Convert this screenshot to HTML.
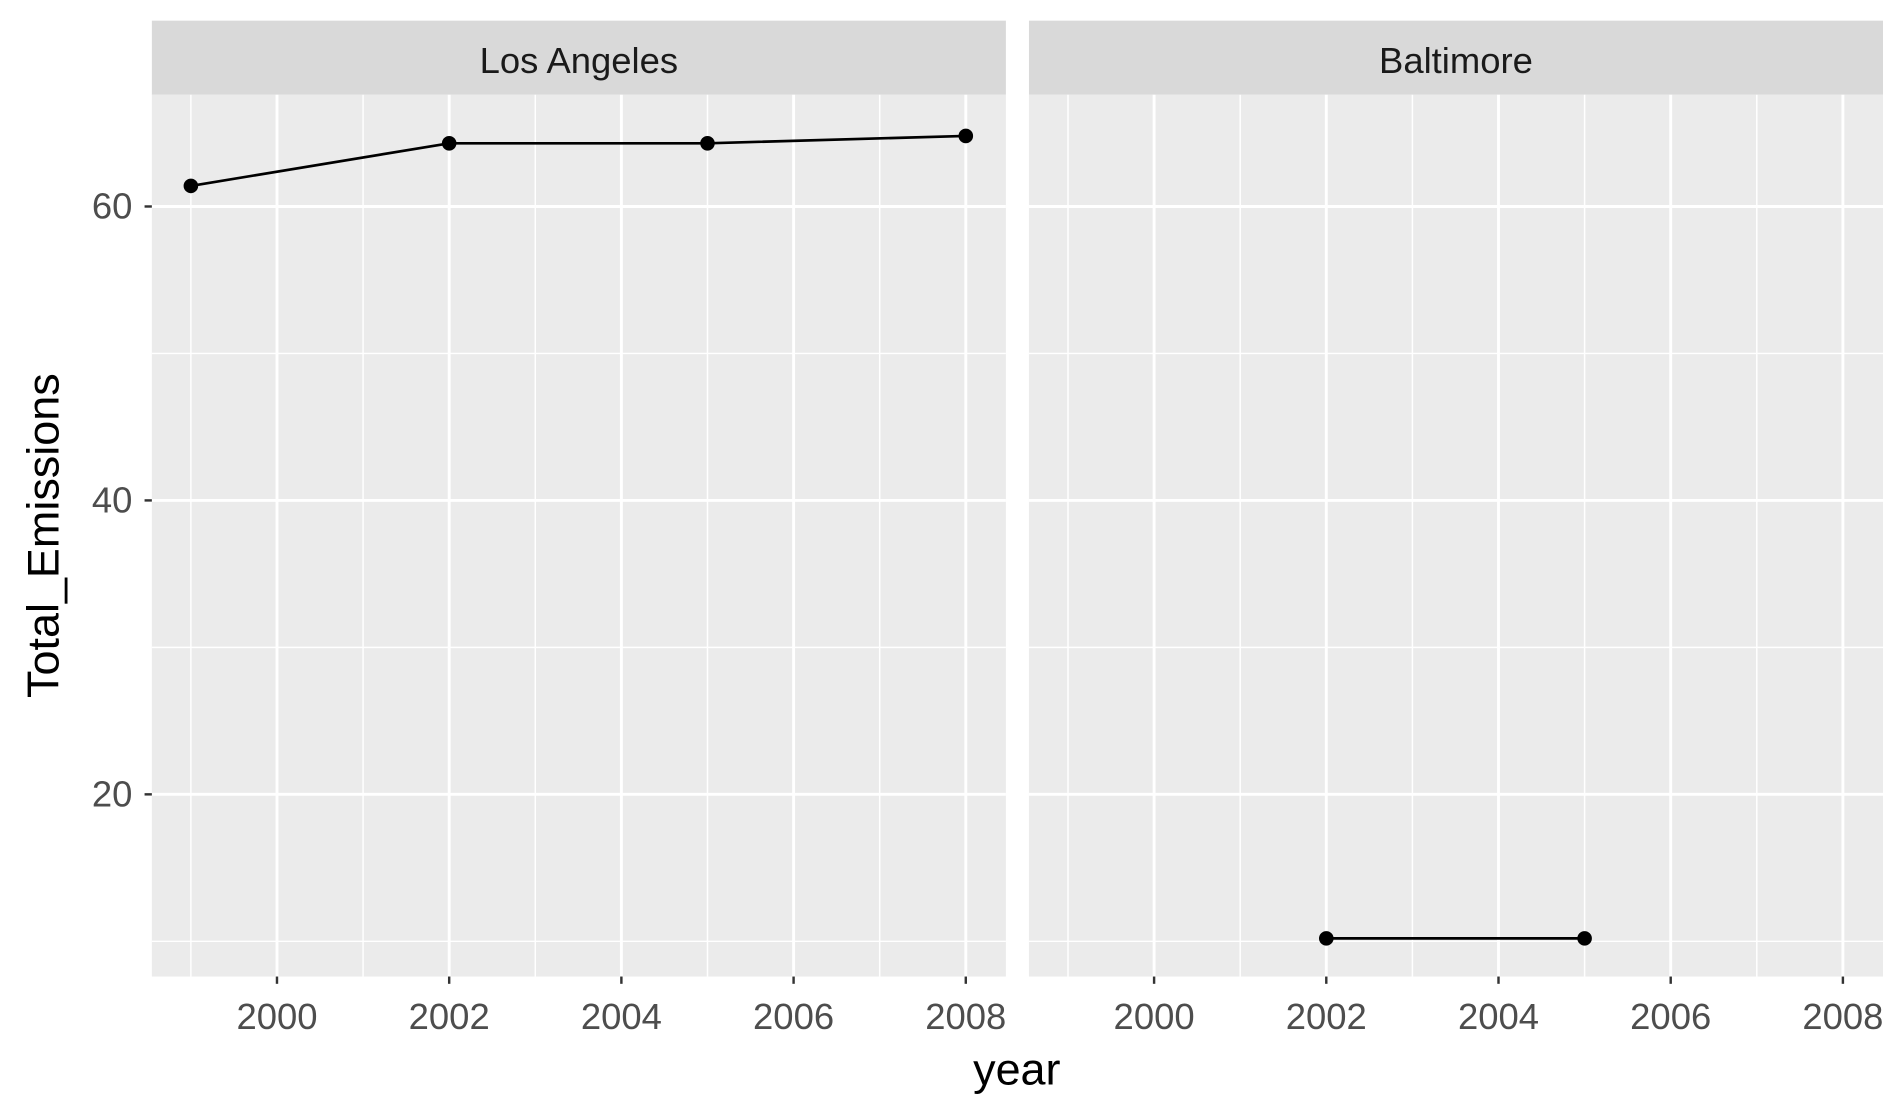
<!DOCTYPE html>
<html><head><meta charset="utf-8"><style>
html,body{margin:0;padding:0;background:#fff}
svg{display:block;font-family:"Liberation Sans",Arial,sans-serif}
</style></head><body>
<svg id="chart" width="1900" height="1115" viewBox="0 0 1564 918" preserveAspectRatio="none"></svg>
<script>
const panels = ["Los Angeles", "Baltimore"];
const laYears = [1999, 2002, 2005, 2008];
const laValues = [61.4, 64.3, 64.3, 64.8];
const baYears = [2002, 2005];
const baValues = [10.2, 10.2];
const xTicks = [2000, 2002, 2004, 2006, 2008];
const xMinor = [1999, 2001, 2003, 2005, 2007];
const yTicks = [20, 40, 60];
const yMinor = [10, 30, 50];

const NS = "http://www.w3.org/2000/svg";
const svg = document.getElementById("chart");
function mk(tag, attrs, parent){const e=document.createElementNS(NS,tag);for(const k in attrs)e.setAttribute(k,attrs[k]);(parent||svg).appendChild(e);return e;}
const panelX0 = [125, 847], panelW = 703, panelTop = 78, panelBottom = 804;
function xs(p, v){return panelX0[p] + 103 + (v - 2000) * 70.875;}
function ys(v){return 170 - (v - 60) * 12.1;}
const series = [[laYears, laValues],[baYears, baValues]];

panels.forEach((name, p) => {
  const x0 = panelX0[p];
  const g = mk("g", {});
  
  
  const strip = mk("rect", {x:x0, y:17, width:panelW, height:61, fill:"#d9d9d9"}, g);
  
  
  const st = mk("text", {x:x0+panelW/2, y:60, "text-anchor":"middle", "font-size":"30", fill:"#1a1a1a"}, g);
  st.textContent = name;
  
  
  const bg = mk("rect", {x:x0, y:panelTop, width:panelW, height:panelBottom-panelTop, fill:"#ebebeb"}, g);
  
  
  yMinor.forEach(v => { const l = mk("line", {x1:x0, x2:x0+panelW, y1:ys(v), y2:ys(v), stroke:"#fff", "stroke-width":1.2}, g);   });
  xMinor.forEach(v => { const l = mk("line", {x1:xs(p,v), x2:xs(p,v), y1:panelTop, y2:panelBottom, stroke:"#fff", "stroke-width":1.2}, g);   });
  yTicks.forEach(v => { const l = mk("line", {x1:x0, x2:x0+panelW, y1:ys(v), y2:ys(v), stroke:"#fff", "stroke-width":2.4}, g);   });
  xTicks.forEach(v => {
    const l = mk("line", {x1:xs(p,v), x2:xs(p,v), y1:panelTop, y2:panelBottom, stroke:"#fff", "stroke-width":2.4}, g);
     
    const t = mk("line", {x1:xs(p,v), x2:xs(p,v), y1:panelBottom, y2:panelBottom+6, stroke:"#333", "stroke-width":2}, g);
     
    const tl = mk("text", {x:xs(p,v), y:847, "text-anchor":"middle", "font-size":"30", fill:"#4d4d4d"}, g);
    tl.textContent = v;
     
  });
  const [yrs, vals] = series[p];
  const pts = yrs.map((y,i)=>xs(p,y)+","+ys(vals[i])).join(" ");
  const pl = mk("polyline", {points:pts, fill:"none", stroke:"#000", "stroke-width":2.2}, g);
   
  yrs.forEach((y,i) => { const c = mk("circle", {cx:xs(p,y), cy:ys(vals[i]), r:6, fill:"#000"}, g);   });
});
yTicks.forEach(v => {
  const t = mk("line", {x1:119, x2:125, y1:ys(v), y2:ys(v), stroke:"#333", "stroke-width":2});
   
  const tl = mk("text", {x:109, y:ys(v)+10, "text-anchor":"end", "font-size":"30", fill:"#4d4d4d"});
  tl.textContent = v;
   
});
const xt = mk("text", {x:837, y:893, "text-anchor":"middle", "font-size":"37", fill:"#000"});
xt.textContent = "year";
 
const yt = mk("text", {x:0, y:0, "text-anchor":"middle", "font-size":"37", fill:"#000", transform:"translate(48,441) rotate(-90)"});
yt.textContent = "Total_Emissions";
 
</script>
</body></html>
